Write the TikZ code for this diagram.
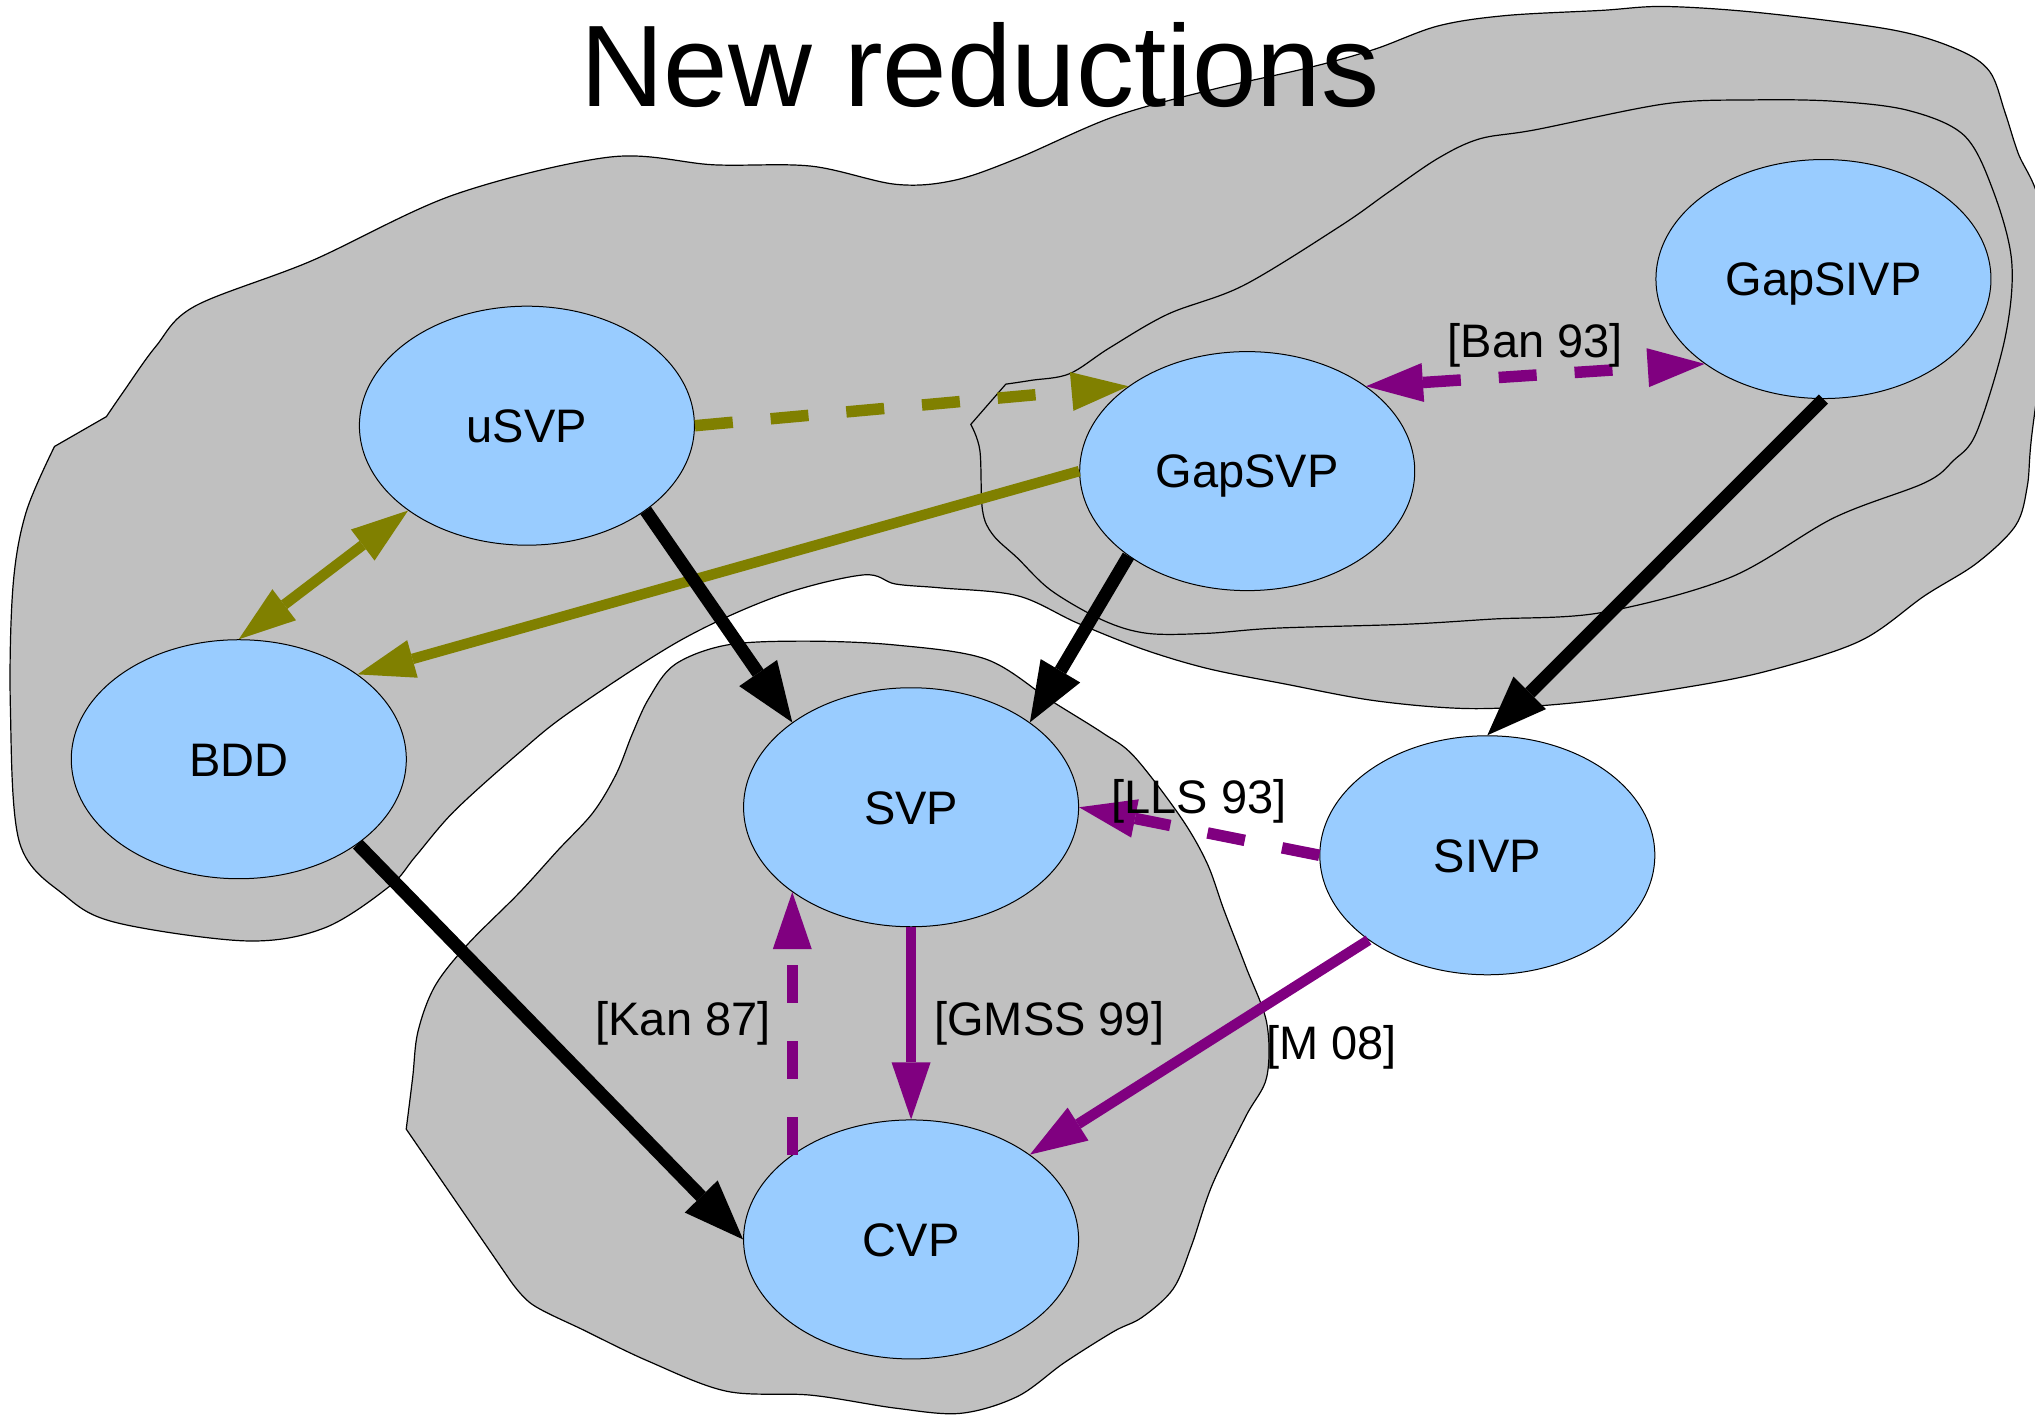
\documentclass[tikz,border=0pt]{standalone}
\usepackage{fontspec}
\setmainfont{Liberation Sans}
\usetikzlibrary{arrows.meta,shapes.geometric}
\definecolor{nodeblue}{RGB}{153,204,255}
\definecolor{blobgray}{RGB}{192,192,192}
\definecolor{redolive}{RGB}{128,128,0}
\definecolor{redpurple}{RGB}{128,0,128}
\tikzset{
  bighead/.tip={Triangle[length=60pt,width=46pt,line width=0pt]},
  colhead/.tip={Triangle[length=57pt,width=39pt,line width=0pt]},
}
\begin{document}
\begin{tikzpicture}[x=1.2978pt, y=-1.2978pt,
  problem/.style={ellipse, draw=black, line width=1pt, fill=nodeblue,
    minimum width=335pt, minimum height=239pt, inner sep=0pt,
    font=\fontsize{47}{56}\selectfont, text height=33.7pt, text depth=0pt},
  blob/.style={fill=blobgray, draw=black, line width=1.2pt, line join=miter},
  reflabel/.style={font=\fontsize{47}{56}\selectfont, inner sep=0pt},
  strong/.style={draw=black, line width=13pt, -bighead},
  olivesolid/.style={draw=redolive, line width=10.5pt, -colhead},
  olivedash/.style={draw=redolive, line width=11.5pt, dash pattern=on 38pt off 38pt, -colhead},
  olivedouble/.style={draw=redolive, line width=10.5pt, colhead-colhead},
  purplesolid/.style={draw=redpurple, line width=10.5pt, -colhead},
  purpledash/.style={draw=redpurple, line width=11.5pt, dash pattern=on 38pt off 38pt, -colhead},
  purpledashdouble/.style={draw=redpurple, line width=11.5pt, dash pattern=on 38pt off 38pt, colhead-colhead},
]
\useasboundingbox (0,0) rectangle (1568,1090);

% grey regions grouping the problems
\begin{scope}
\clip (0,0) rectangle (1568,1090);
\path[blob] plot[smooth, tension=0.55] coordinates {
  (82,321) (95,302) (120,267) (150,236) (240,201) (350,150) (470,121)
  (550,127) (625,128) (690,142) (735,139) (784,122) (858,90) (934,69) (1009,52)
  (1059,38) (1108,20) (1160,12) (1234,8) (1283,5) (1358,10) (1458,23) (1508,38)
  (1533,55) (1545,87) (1555,118) (1572,160) (1575,250) (1565,340) (1562,375)
  (1553,405) (1523,434) (1483,459) (1433,494) (1358,518) (1284,532) (1208,542)
  (1133,546) (1060,540) (990,527) (930,515) (880,500) (830,480) (784,459)
  (725,453) (690,450) (665,443) (600,459) (525,493) (440,548) (400,580)
  (350,625) (320,660) (300,683) (250,715) (190,725) (90,711) (50,690)
  (15,649) (8,545) (10,452) (20,395) (42,344)} -- cycle;
\path[blob] plot[smooth, tension=0.55] coordinates {
  (775,296) (795,293) (824,288) (855,268) (900,242)
  (958,220) (1033,174) (1070,148) (1108,122) (1140,107) (1183,100) (1283,80)
  (1350,77) (1413,78) (1470,85) (1513,104) (1535,145) (1550,201) (1545,260)
  (1523,333) (1505,355) (1483,372) (1413,399) (1333,445) (1234,472) (1150,477)
  (1083,481) (983,484) (930,488) (884,488) (850,478) (810,455) (784,430)
  (765,412) (757,393) (755,347) (748,327)} -- cycle;
\path[blob] plot[smooth, tension=0.55] coordinates {
  (313,870) (318,830) (322,795) (335,760) (360,728) (400,688) (430,655)
  (457,626) (475,596) (487,566) (500,538) (520,512) (560,497) (620,494)
  (690,497) (760,508) (810,540) (850,565) (874,583) (910,630) (930,665)
  (943,701) (960,745) (976,788) (976,830) (960,860) (934,913) (918,960)
  (904,993) (880,1015) (858,1026) (820,1050) (784,1076) (740,1089) (690,1085)
  (625,1075) (560,1072) (500,1049) (450,1025) (410,1005) (392,985)} -- cycle;
\end{scope}

% problems
\node[problem] (uSVP)    at (406,328)  {uSVP};
\node[problem] (GapSVP)  at (961,363)  {GapSVP};
\node[problem] (GapSIVP) at (1405,215) {GapSIVP};
\node[problem] (BDD)     at (184,585)  {BDD};
\node[problem] (SVP)     at (702,622)  {SVP};
\node[problem] (SIVP)    at (1146,659) {SIVP};
\node[problem] (CVP)     at (702,955)  {CVP};

% reductions
\draw[olivedash]   (uSVP.east) -- (GapSVP.north west);
\draw[olivesolid]  (GapSVP.west) -- (BDD.north east);
\draw[olivedouble] (uSVP.south west) -- (BDD.north);
\draw[strong] (uSVP.south east) -- (SVP.north west);
\draw[strong] (GapSVP.south west) -- (SVP.north east);
\draw[strong] (GapSIVP.south) -- (SIVP.north);
\draw[strong] (BDD.south east) -- (CVP.west);
\draw[purpledashdouble] (GapSVP.north east) --
  node[reflabel, midway, yshift=30pt] {[Ban 93]} (GapSIVP.south west);
\draw[purpledash] (SIVP.west) --
  node[reflabel, midway, yshift=30pt] {[LLS 93]} (SVP.east);
\draw[purplesolid] (SIVP.south west) --
  node[reflabel, midway, anchor=west, xshift=62pt] {[M 08]} (CVP.north east);
\draw[purplesolid] (SVP.south) --
  node[reflabel, midway, anchor=west, xshift=18pt] {[GMSS 99]} (CVP.north);
\draw[purpledash] (CVP.north west) --
  node[reflabel, midway, anchor=east, xshift=-16pt] {[Kan 87]} (SVP.south west);

% title
\node[anchor=base, inner sep=0pt, font=\fontsize{116}{130}\selectfont] (title) at (755,82) {New reductions};
\end{tikzpicture}
\end{document}
